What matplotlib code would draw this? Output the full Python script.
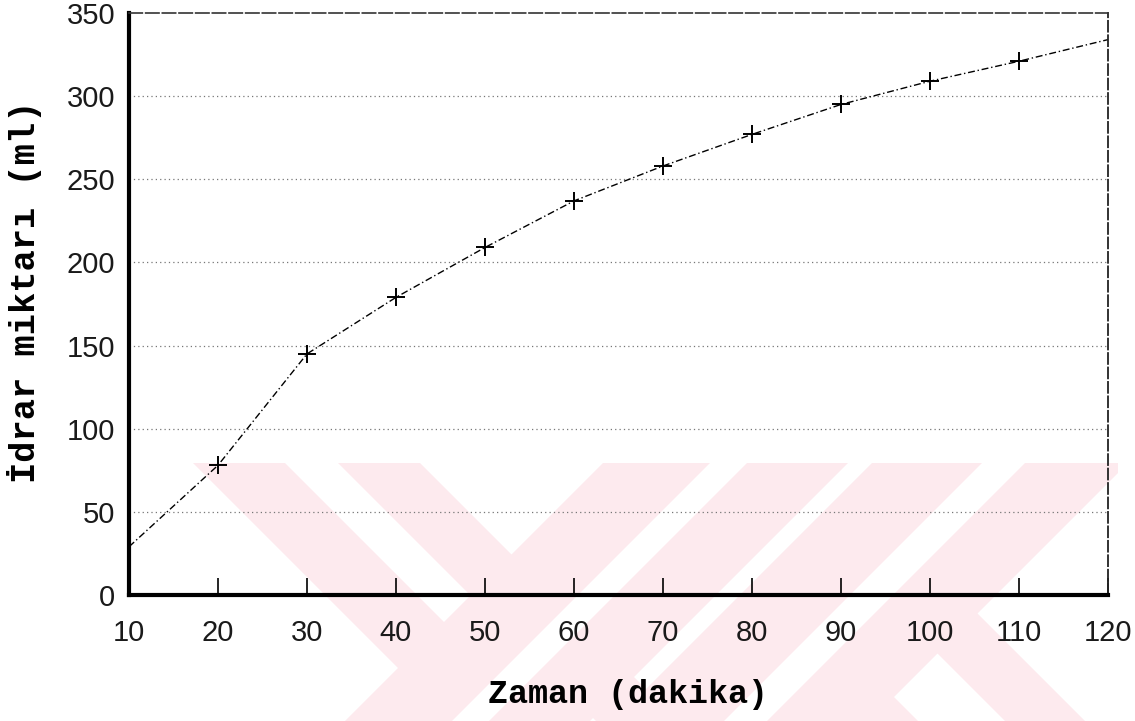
import matplotlib.pyplot as plt
from matplotlib.patches import Polygon, Rectangle

# measured urine volume over time
zaman = [10, 20, 30, 40, 50, 60, 70, 80, 90, 100, 110, 120]
idrar = [29, 78, 145, 179, 209, 237, 258, 277, 295, 309, 321, 334]
olcum_zaman = zaman[1:-1]
olcum_idrar = idrar[1:-1]

x_ticks = [10, 20, 30, 40, 50, 60, 70, 80, 90, 100, 110, 120]
y_ticks = [0, 50, 100, 150, 200, 250, 300, 350]

W, H = 1135, 721
fig = plt.figure(figsize=(W / 100, H / 100), dpi=100)

# pale red stamp in the background, drawn in pixel units
bg = fig.add_axes([0, 0, 1, 1], zorder=-1)
bg.set_xlim(0, W)
bg.set_ylim(H, 0)
bg.axis('off')
clip = Rectangle((173, 463), 945, 258, transform=bg.transData)
pink = '#fdeaee'
y0, y1 = 463, 721


def band_down(a, b, color, smin=None):
    # band between lines x - y = a and x - y = b
    pts = [(y0 + a, y0), (y0 + b, y0), (y1 + b, y1), (y1 + a, y1)]
    if smin is not None:
        pts = [((smin + a) / 2, (smin - a) / 2), ((smin + b) / 2, (smin - b) / 2),
               (y1 + b, y1), (y1 + a, y1)]
    p = Polygon(pts, closed=True, color=color, lw=0)
    bg.add_patch(p)
    p.set_clip_path(clip)


def band_up(a, b, color):
    # band between lines x + y = a and x + y = b
    pts = [(a - y0, y0), (b - y0, y0), (b - y1, y1), (a - y1, y1)]
    p = Polygon(pts, closed=True, color=color, lw=0)
    bg.add_patch(p)
    p.set_clip_path(clip)


band_down(-270, -43, pink)
band_down(-178, -125, 'white')
band_up(1066, 1311, pink)
band_up(1173, 1210, 'white')
band_down(90, 364, pink, smin=1420)
band_down(197, 284, 'white', smin=1440)
band_up(1335, 1591, pink)
band_up(1445, 1488, 'white')

ax = fig.add_axes([129 / W, 1 - 595 / H, 979 / W, 582 / H])
ax.set_facecolor('none')

ax.plot(zaman, idrar, color='black', lw=1.0, ls=(0, (5, 2, 1, 2)))
ax.plot(olcum_zaman, olcum_idrar, ls='none', marker='+', ms=13, mew=1.4, color='black')

ax.set_xlim(10, 120)
ax.set_ylim(0, 350)
ax.set_xticks(x_ticks)
ax.set_yticks(y_ticks)
ax.set_xticklabels([str(v) for v in x_ticks])
ax.set_yticklabels([str(v) for v in y_ticks])

for t in ax.get_xticklabels() + ax.get_yticklabels():
    t.set_fontfamily(['Liberation Sans', 'DejaVu Sans'])
    t.set_fontsize(21)
    t.set_color('#1a1a1a')

ax.tick_params(axis='x', direction='in', length=12, width=1.2, pad=17, top=False)
ax.tick_params(axis='y', length=0, pad=10)

for v in y_ticks[1:-1]:
    ax.axhline(v, color='#777777', lw=0.9, ls=(0, (1, 2.5)), zorder=0)

ax.spines['left'].set_linewidth(3)
ax.spines['bottom'].set_linewidth(3)
ax.spines['top'].set_linewidth(1.2)
ax.spines['top'].set_linestyle((0, (8, 2)))
ax.spines['top'].set_color('#333333')
ax.spines['right'].set_linewidth(1.3)
ax.spines['right'].set_linestyle((0, (6, 2)))
ax.spines['right'].set_color('#222222')

mono = dict(family=['Liberation Mono', 'DejaVu Sans Mono'], weight='bold', size=24)
fig.text(628 / W, 1 - 695 / H, 'Zaman (dakika)', ha='center', va='center', **mono)
fig.text(25 / W, 1 - 292 / H, 'İdrar miktarı (ml)', ha='center', va='center',
         rotation=90, fontfamily=mono['family'], fontweight='bold', fontsize=25.5)

fig.savefig('out.png', dpi=100)
